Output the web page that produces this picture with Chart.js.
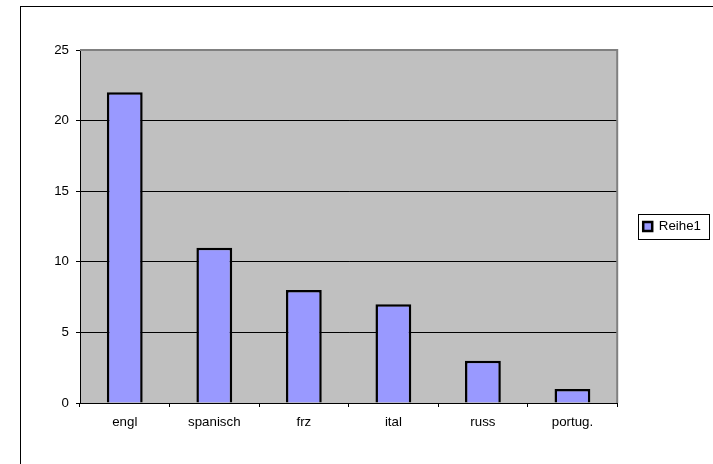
<!DOCTYPE html>
<html>
<head>
<meta charset="utf-8">
<script src="https://cdn.jsdelivr.net/npm/chart.js@4/dist/chart.umd.min.js"></script>
<style>
    body { margin: 0; background: #ffffff; }
    canvas { display: block; }
</style>
</head>
<body>
<canvas id="sprachenChart" width="713" height="464"></canvas>
<script>
const categories = ["engl", "spanisch", "frz", "ital", "russ", "portug."]
const reihe1 = [22, 11, 8, 7, 3, 1]
const seriesName = "Reihe1"
const yTicks = [0, 5, 10, 15, 20, 25]

// grey plot background, grey top/right edge, outer frame and legend frame
const excelLook = {
    id: "excelLook",
    beforeDatasetsDraw(chart) {
        const ctx = chart.ctx
        const a = chart.chartArea
        ctx.save()
        ctx.strokeStyle = "#808080"
        ctx.lineWidth = 2
        ctx.beginPath()
        ctx.moveTo(a.left, a.top)
        ctx.lineTo(a.right, a.top)
        ctx.lineTo(a.right, a.bottom)
        ctx.stroke()
        ctx.restore()
    },
    beforeDraw(chart) {
        const ctx = chart.ctx
        const a = chart.chartArea
        ctx.save()
        ctx.fillStyle = "#c0c0c0"
        ctx.fillRect(a.left, a.top, a.right - a.left, a.bottom - a.top)
        ctx.restore()
    },
    afterDraw(chart) {
        const ctx = chart.ctx
        ctx.save()
        ctx.strokeStyle = "#000000"
        ctx.lineWidth = 1
        ctx.strokeRect(20.5, 6.5, 1000, 1000)
        const hb = chart.legend.legendHitBoxes[0]
        if (hb) {
            const cy = hb.top + hb.height / 2
            const left = Math.round(hb.left - 5) + 0.5
            const right = Math.round(hb.left + hb.width + 8) + 0.5
            ctx.strokeRect(left, Math.round(cy - 12.5) + 0.5, right - left, 25)
        }
        ctx.restore()
    }
}

function drawChart() {
    const ctx = document.getElementById("sprachenChart")
    new Chart(ctx, {
        type: "bar",
        data: {
            labels: categories,
            datasets: [{
                label: seriesName,
                data: reihe1,
                backgroundColor: "#9999ff",
                borderColor: "#000000",
                borderWidth: 2.5,
                barPercentage: 0.4,
                categoryPercentage: 1.0
            }]
        },
        options: {
            responsive: false,
            animation: false,
            devicePixelRatio: 1,
            layout: {
                padding: { left: 20, top: 50, right: 2, bottom: 0 }
            },
            font: { family: "'Liberation Sans', Arial, sans-serif", size: 13.3 },
            scales: {
                x: {
                    grid: { drawOnChartArea: false, drawTicks: true, tickLength: 4, color: "#000000", offset: true },
                    border: { color: "#000000", width: 1 },
                    ticks: { color: "#000000", padding: 7, font: { family: "'Liberation Sans', Arial, sans-serif", size: 13.3 } },
                    afterFit(scale) { scale.height = 61 }
                },
                y: {
                    min: 0,
                    max: 25,
                    afterBuildTicks(scale) { scale.ticks = yTicks.map(v => ({ value: v })) },
                    grid: {
                        color: c => (c.tick && c.tick.value === 25 ? "rgba(0,0,0,0)" : "#000000"),
                        tickColor: "#000000",
                        tickLength: 4,
                        lineWidth: 1
                    },
                    border: { color: "#000000", width: 1 },
                    ticks: { color: "#000000", padding: 7, font: { family: "'Liberation Sans', Arial, sans-serif", size: 13.3 } },
                    afterFit(scale) { scale.width = 60 }
                }
            },
            plugins: {
                legend: {
                    position: "right",
                    fullSize: false,
                    labels: {
                        boxWidth: 9,
                        boxHeight: 9,
                        padding: 26,
                        color: "#000000",
                        font: { family: "'Liberation Sans', Arial, sans-serif", size: 13.3 }
                    }
                },
                tooltip: { enabled: false }
            }
        },
        plugins: [excelLook]
    })
}

drawChart()
</script>
</body>
</html>
